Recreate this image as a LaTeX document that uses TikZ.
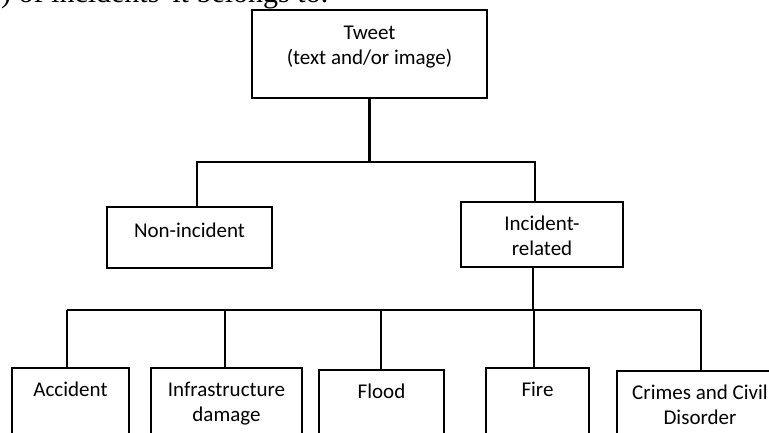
\documentclass[tikz,border=0pt]{standalone}
\usepackage{fontspec}
\setmainfont{Carlito}
\newfontfamily\pagefont{Liberation Serif}
\usepackage{tikz}
\usetikzlibrary{positioning,calc}

\tikzset{
    box/.style={draw, line width=2.2pt, inner sep=0pt},
    lbl/.style={align=center, inner sep=0pt, font=\fontsize{21}{25}\selectfont},
    conn/.style={line width=2.2pt},
    pagetext/.style={inner sep=0pt, font=\pagefont\fontsize{30}{34}\selectfont}
}

\begin{document}
\begin{tikzpicture}[x=1pt, y=-1pt]
    \useasboundingbox (0,0) rectangle (769,433);
    \clip (0,0) rectangle (769,433);

    % line of the page above the figure
    \node[pagetext, anchor=base west] (pagetxt) at (-14,2.5) {y) of incidents' it belongs to.};

    % root
    \node[box, minimum width=235pt, minimum height=88pt] (tweet) at (369.5,54) {};
    \node[lbl, below=17pt of tweet.north] (tweettxt) {Tweet\\(text and/or image)};

    % first level
    \node[box, minimum width=165pt, minimum height=61pt] (nonin) at (189.5,237.5) {};
    \node[lbl, below=17pt of nonin.north] (nonintxt) {Non-incident};
    \node[box, minimum width=162pt, minimum height=65pt] (incid) at (542,234.5) {};
    \node[lbl, below=15pt of incid.north] (incidtxt) {Incident-\\related};

    \coordinate (mid) at (370,162);
    \coordinate (barL) at (197,162);
    \coordinate (barR) at (535,162);
    \draw[conn] (tweet.south) -- (tweet.south |- mid);
    \draw[conn] (barL |- nonin.north) -- (barL) -- (barR) -- (barR |- incid.north);

    % second level
    \coordinate (drop) at (533,310);
    \coordinate (bar2L) at (67,310);
    \coordinate (bar2R) at (701,310);
    \draw[conn] (incid.south -| drop) -- (drop);
    \draw[conn] (bar2L) -- (bar2R);
    \foreach \n/\x/\y/\w/\j/\t in {acc/70.5/367/117/67/Accident,
                                 inf/226.5/367/151/225/{Infrastructure\\damage},
                                 fld/381.5/369/125/381/Flood,
                                 fire/537.5/367/103/534/Fire,
                                 crime/700/370/166/701/{Crimes and Civil\\Disorder}} {
        \node[box, anchor=north, minimum width=\w pt, minimum height=100pt] (\n) at (\x,\y) {};
        \node[lbl, below=15pt of \n.north] (\n txt) {\t};
        \coordinate (j\n) at (\j,310);
        \draw[conn] (j\n) -- (j\n |- \n.north);
    }
\end{tikzpicture}
\end{document}
